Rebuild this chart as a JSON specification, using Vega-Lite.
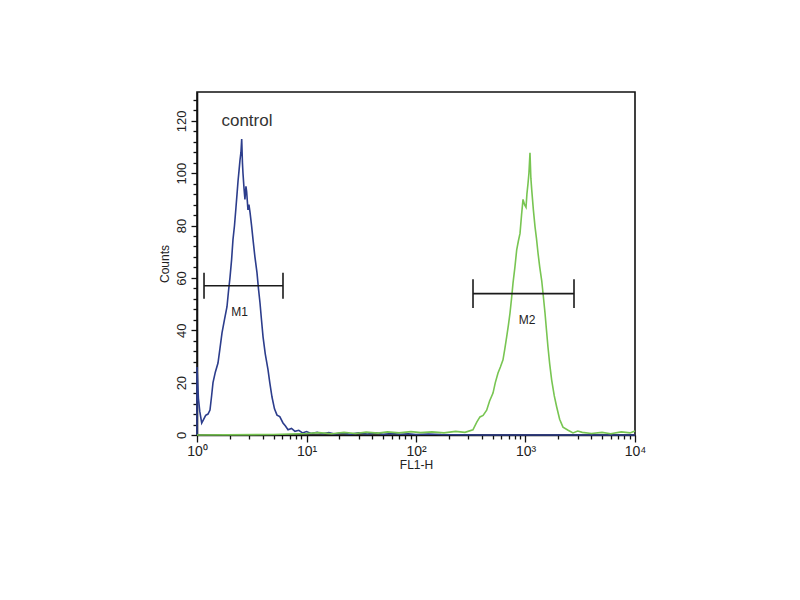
{
  "$schema": "https://vega.github.io/schema/vega-lite/v6.json",
  "width": 438,
  "height": 343,
  "autosize": {"type": "none"},
  "padding": {"left": 197, "top": 92, "right": 165, "bottom": 165},
  "background": "white",
  "config": {
    "font": "Liberation Sans",
    "view": {"stroke": "#111111", "strokeWidth": 1.6},
    "axis": {
      "domainColor": "#111111",
      "domainWidth": 1.6,
      "tickColor": "#111111",
      "tickWidth": 1.3,
      "labelColor": "#222222",
      "titleColor": "#222222",
      "labelFontSize": 13,
      "titleFontSize": 12,
      "titleFontWeight": "normal",
      "grid": false
    }
  },
  "resolve": {"axis": {"x": "independent", "y": "independent"}},
  "datasets": {
    "hist": [
      {"series": "control", "fl": 1.0, "count": 0},
      {"series": "control", "fl": 1.0, "count": 26},
      {"series": "control", "fl": 1.03, "count": 14},
      {"series": "control", "fl": 1.06, "count": 9},
      {"series": "control", "fl": 1.104, "count": 4.6},
      {"series": "control", "fl": 1.15, "count": 6},
      {"series": "control", "fl": 1.2, "count": 7.5},
      {"series": "control", "fl": 1.26, "count": 8},
      {"series": "control", "fl": 1.314, "count": 9.5},
      {"series": "control", "fl": 1.36, "count": 15},
      {"series": "control", "fl": 1.4, "count": 20},
      {"series": "control", "fl": 1.47, "count": 24},
      {"series": "control", "fl": 1.555, "count": 27.5},
      {"series": "control", "fl": 1.62, "count": 33},
      {"series": "control", "fl": 1.692, "count": 39},
      {"series": "control", "fl": 1.78, "count": 44},
      {"series": "control", "fl": 1.879, "count": 49},
      {"series": "control", "fl": 1.94, "count": 55},
      {"series": "control", "fl": 2.0, "count": 60},
      {"series": "control", "fl": 2.07, "count": 67},
      {"series": "control", "fl": 2.13, "count": 74.5},
      {"series": "control", "fl": 2.2, "count": 80},
      {"series": "control", "fl": 2.27, "count": 87},
      {"series": "control", "fl": 2.32, "count": 92},
      {"series": "control", "fl": 2.37, "count": 97},
      {"series": "control", "fl": 2.42, "count": 101},
      {"series": "control", "fl": 2.47, "count": 105},
      {"series": "control", "fl": 2.52, "count": 108},
      {"series": "control", "fl": 2.56, "count": 113},
      {"series": "control", "fl": 2.6, "count": 104},
      {"series": "control", "fl": 2.63, "count": 100},
      {"series": "control", "fl": 2.69, "count": 94},
      {"series": "control", "fl": 2.74, "count": 90},
      {"series": "control", "fl": 2.8, "count": 95},
      {"series": "control", "fl": 2.84, "count": 93},
      {"series": "control", "fl": 2.92, "count": 86},
      {"series": "control", "fl": 2.98, "count": 88},
      {"series": "control", "fl": 3.05, "count": 85},
      {"series": "control", "fl": 3.15, "count": 80},
      {"series": "control", "fl": 3.25, "count": 74.5},
      {"series": "control", "fl": 3.38, "count": 68},
      {"series": "control", "fl": 3.53, "count": 62},
      {"series": "control", "fl": 3.64, "count": 56},
      {"series": "control", "fl": 3.76, "count": 50.5},
      {"series": "control", "fl": 3.88, "count": 44},
      {"series": "control", "fl": 4.01, "count": 37.5},
      {"series": "control", "fl": 4.2, "count": 31},
      {"series": "control", "fl": 4.45, "count": 25},
      {"series": "control", "fl": 4.62, "count": 20},
      {"series": "control", "fl": 4.84, "count": 14.5},
      {"series": "control", "fl": 5.1, "count": 10},
      {"series": "control", "fl": 5.38, "count": 7.6},
      {"series": "control", "fl": 5.7, "count": 7},
      {"series": "control", "fl": 6.1, "count": 4.6},
      {"series": "control", "fl": 6.4, "count": 3.5},
      {"series": "control", "fl": 6.78, "count": 2},
      {"series": "control", "fl": 7.3, "count": 2.5},
      {"series": "control", "fl": 7.85, "count": 1.4},
      {"series": "control", "fl": 8.5, "count": 1.8},
      {"series": "control", "fl": 9.2, "count": 0.8},
      {"series": "control", "fl": 10, "count": 1.3},
      {"series": "control", "fl": 11, "count": 0.6},
      {"series": "control", "fl": 12.5, "count": 1.0},
      {"series": "control", "fl": 14, "count": 0.5},
      {"series": "control", "fl": 16, "count": 0.9},
      {"series": "control", "fl": 18, "count": 0.4},
      {"series": "control", "fl": 21, "count": 0.8},
      {"series": "control", "fl": 25, "count": 0.3},
      {"series": "control", "fl": 30, "count": 0.8},
      {"series": "control", "fl": 36, "count": 0.4},
      {"series": "control", "fl": 43, "count": 0.8},
      {"series": "control", "fl": 50, "count": 0.3},
      {"series": "control", "fl": 60, "count": 0.6},
      {"series": "control", "fl": 72, "count": 0.3},
      {"series": "control", "fl": 85, "count": 0.5},
      {"series": "control", "fl": 100, "count": 0.2},
      {"series": "control", "fl": 130, "count": 0.4},
      {"series": "control", "fl": 170, "count": 0.2},
      {"series": "control", "fl": 250, "count": 0.1},
      {"series": "control", "fl": 400, "count": 0},
      {"series": "control", "fl": 10000, "count": 0},
      {"series": "sample", "fl": 1.0, "count": 0},
      {"series": "sample", "fl": 5, "count": 0.2},
      {"series": "sample", "fl": 10, "count": 0.6},
      {"series": "sample", "fl": 13, "count": 0.9},
      {"series": "sample", "fl": 17, "count": 0.5},
      {"series": "sample", "fl": 22, "count": 1.0},
      {"series": "sample", "fl": 28, "count": 0.6},
      {"series": "sample", "fl": 35, "count": 1.1},
      {"series": "sample", "fl": 45, "count": 0.7},
      {"series": "sample", "fl": 55, "count": 1.2},
      {"series": "sample", "fl": 70, "count": 0.8},
      {"series": "sample", "fl": 90, "count": 1.3},
      {"series": "sample", "fl": 110, "count": 0.9},
      {"series": "sample", "fl": 140, "count": 1.2},
      {"series": "sample", "fl": 180, "count": 0.8},
      {"series": "sample", "fl": 230, "count": 1.4},
      {"series": "sample", "fl": 280, "count": 1.0},
      {"series": "sample", "fl": 331, "count": 2.0},
      {"series": "sample", "fl": 360, "count": 5},
      {"series": "sample", "fl": 384, "count": 6.9},
      {"series": "sample", "fl": 410, "count": 7.5},
      {"series": "sample", "fl": 442, "count": 9.5},
      {"series": "sample", "fl": 470, "count": 13},
      {"series": "sample", "fl": 505, "count": 16},
      {"series": "sample", "fl": 530, "count": 20},
      {"series": "sample", "fl": 561, "count": 23.7},
      {"series": "sample", "fl": 590, "count": 26},
      {"series": "sample", "fl": 623, "count": 28.7},
      {"series": "sample", "fl": 648, "count": 33},
      {"series": "sample", "fl": 673, "count": 37.5},
      {"series": "sample", "fl": 698, "count": 42},
      {"series": "sample", "fl": 722, "count": 46.6},
      {"series": "sample", "fl": 745, "count": 52},
      {"series": "sample", "fl": 769, "count": 58},
      {"series": "sample", "fl": 800, "count": 64},
      {"series": "sample", "fl": 831, "count": 70.7},
      {"series": "sample", "fl": 860, "count": 74},
      {"series": "sample", "fl": 891, "count": 77},
      {"series": "sample", "fl": 920, "count": 84},
      {"series": "sample", "fl": 949, "count": 90},
      {"series": "sample", "fl": 980, "count": 88},
      {"series": "sample", "fl": 1011, "count": 87},
      {"series": "sample", "fl": 1030, "count": 92},
      {"series": "sample", "fl": 1054, "count": 96},
      {"series": "sample", "fl": 1075, "count": 100},
      {"series": "sample", "fl": 1099, "count": 107.8},
      {"series": "sample", "fl": 1120, "count": 98},
      {"series": "sample", "fl": 1140, "count": 93.6},
      {"series": "sample", "fl": 1180, "count": 86},
      {"series": "sample", "fl": 1222, "count": 79.5},
      {"series": "sample", "fl": 1260, "count": 75},
      {"series": "sample", "fl": 1301, "count": 69.5},
      {"series": "sample", "fl": 1350, "count": 64},
      {"series": "sample", "fl": 1406, "count": 59},
      {"series": "sample", "fl": 1455, "count": 53},
      {"series": "sample", "fl": 1507, "count": 46.6},
      {"series": "sample", "fl": 1555, "count": 40},
      {"series": "sample", "fl": 1604, "count": 33.6},
      {"series": "sample", "fl": 1665, "count": 27},
      {"series": "sample", "fl": 1734, "count": 21},
      {"series": "sample", "fl": 1830, "count": 15},
      {"series": "sample", "fl": 1927, "count": 10.7},
      {"series": "sample", "fl": 2050, "count": 6},
      {"series": "sample", "fl": 2199, "count": 3},
      {"series": "sample", "fl": 2450, "count": 1.8},
      {"series": "sample", "fl": 2716, "count": 0.8},
      {"series": "sample", "fl": 3000, "count": 1.5},
      {"series": "sample", "fl": 3300, "count": 1.0},
      {"series": "sample", "fl": 4000, "count": 0.6},
      {"series": "sample", "fl": 5000, "count": 1.0},
      {"series": "sample", "fl": 6000, "count": 0.5},
      {"series": "sample", "fl": 7500, "count": 1.2},
      {"series": "sample", "fl": 9000, "count": 0.8},
      {"series": "sample", "fl": 10000, "count": 1.5}
    ],
    "gates": [
      {"gate": "M1", "lo": 1.159, "hi": 6.1, "level": 57, "capLo": 52, "capHi": 62, "labelX": 2.45, "labelY": 47},
      {"gate": "M2", "lo": 331.6, "hi": 2773, "level": 54, "capLo": 48.5, "capHi": 59.5, "labelX": 1032, "labelY": 44}
    ],
    "notes": [
      {"text": "control", "fl": 2.86, "count": 120}
    ]
  },
  "layer": [
    {
      "data": {"name": "hist"},
      "mark": {"type": "line", "strokeWidth": 1.6},
      "encoding": {
        "x": {
          "field": "fl",
          "type": "quantitative",
          "title": "FL1-H",
          "scale": {"type": "log", "domain": [1, 10000], "nice": false},
          "axis": {
            "orient": "bottom",
            "values": [1, 10, 100, 1000, 10000],
            "labelExpr": "datum.value == 1 ? '10⁰' : datum.value == 10 ? '10¹' : datum.value == 100 ? '10²' : datum.value == 1000 ? '10³' : '10⁴'",
            "labelOverlap": false,
            "labelFlush": false,
            "labelFontSize": 14,
            "labelPadding": 2,
            "tickSize": 7,
            "titlePadding": 1
          }
        },
        "y": {
          "field": "count",
          "type": "quantitative",
          "title": "Counts",
          "scale": {"domain": [0, 131], "nice": false},
          "axis": {
            "orient": "left",
            "values": [0, 20, 40, 60, 80, 100, 120],
            "labelAngle": 270,
            "labelOverlap": false,
            "labelFlush": false,
            "labelPadding": 3,
            "tickSize": 6,
            "titlePadding": 4
          }
        },
        "color": {
          "field": "series",
          "type": "nominal",
          "scale": {"domain": ["control", "sample"], "range": ["#2c3d8c", "#78c552"]},
          "legend": null
        }
      }
    },
    {
      "data": {"name": "gates"},
      "mark": {"type": "rule", "color": "#1a1a1a", "strokeWidth": 1.6},
      "encoding": {
        "x": {
          "field": "lo",
          "type": "quantitative",
          "axis": {
            "orient": "bottom",
            "values": [2, 3, 4, 5, 6, 7, 8, 9, 20, 30, 40, 50, 60, 70, 80, 90, 200, 300, 400, 500, 600, 700, 800, 900, 2000, 3000, 4000, 5000, 6000, 7000, 8000, 9000],
            "labels": false,
            "domain": false,
            "title": null,
            "tickSize": 4
          }
        },
        "x2": {"field": "hi"},
        "y": {
          "field": "level",
          "type": "quantitative",
          "axis": {
            "orient": "left",
            "values": [4, 8, 12, 16, 24, 28, 32, 36, 44, 48, 52, 56, 64, 68, 72, 76, 84, 88, 92, 96, 104, 108, 112, 116, 124, 128],
            "labels": false,
            "domain": false,
            "title": null,
            "tickSize": 4
          }
        }
      }
    },
    {
      "data": {"name": "gates"},
      "mark": {"type": "rule", "color": "#1a1a1a", "strokeWidth": 1.6},
      "encoding": {
        "x": {"field": "lo", "type": "quantitative", "axis": null},
        "y": {"field": "capLo", "type": "quantitative", "axis": null},
        "y2": {"field": "capHi"}
      }
    },
    {
      "data": {"name": "gates"},
      "mark": {"type": "rule", "color": "#1a1a1a", "strokeWidth": 1.6},
      "encoding": {
        "x": {"field": "hi", "type": "quantitative", "axis": null},
        "y": {"field": "capLo", "type": "quantitative", "axis": null},
        "y2": {"field": "capHi"}
      }
    },
    {
      "data": {"name": "gates"},
      "mark": {"type": "text", "fontSize": 12, "color": "#222222", "align": "center", "baseline": "middle"},
      "encoding": {
        "x": {"field": "labelX", "type": "quantitative", "axis": null},
        "y": {"field": "labelY", "type": "quantitative", "axis": null},
        "text": {"field": "gate"}
      }
    },
    {
      "data": {"name": "notes"},
      "mark": {"type": "text", "fontSize": 17, "color": "#333333", "align": "center", "baseline": "middle"},
      "encoding": {
        "x": {"field": "fl", "type": "quantitative", "axis": null},
        "y": {"field": "count", "type": "quantitative", "axis": null},
        "text": {"field": "text"}
      }
    }
  ]
}
